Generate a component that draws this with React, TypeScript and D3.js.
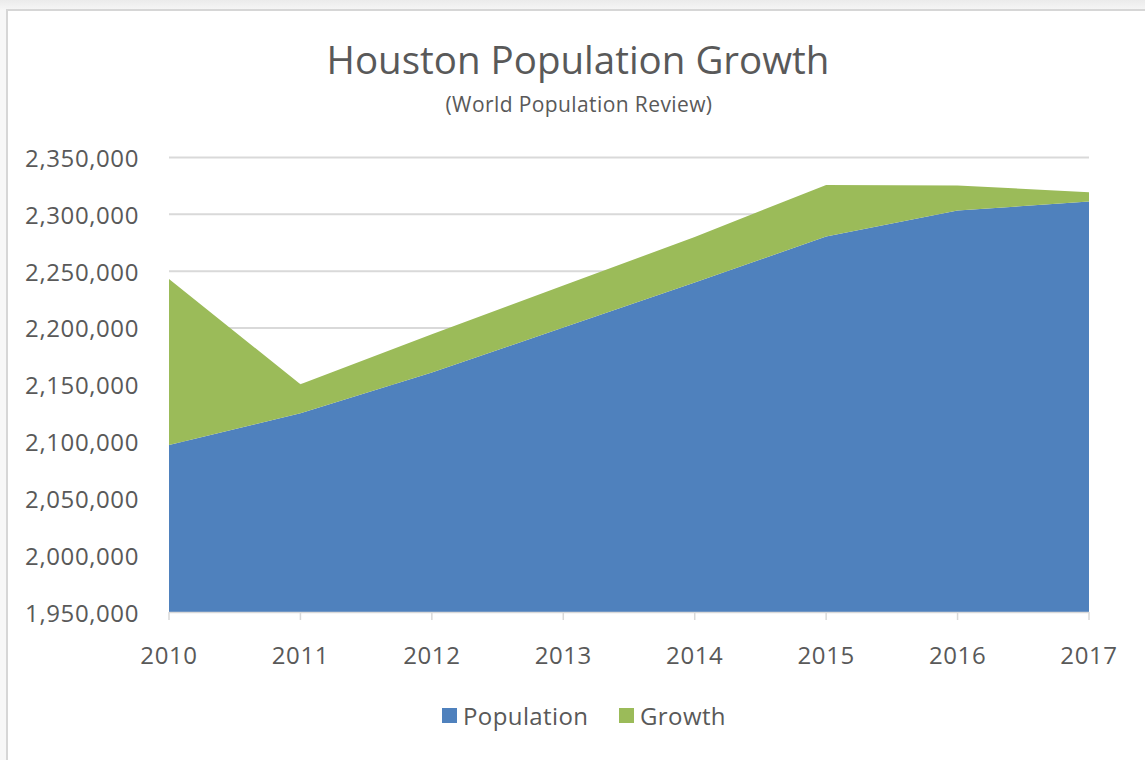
import React from "react";
import * as d3 from "d3";

const years = ["2010", "2011", "2012", "2013", "2014", "2015", "2016", "2017"];
const population = [2097000, 2125000, 2160700, 2200400, 2240000, 2280400, 2303300, 2311200];
const growth = [146000, 25500, 33700, 37000, 40000, 45500, 22000, 8300];
const seriesKeys = ["Population", "Growth"];
const seriesColors = ["#4F81BD", "#9BBB59"];
const yTicks = [1950000, 2000000, 2050000, 2100000, 2150000, 2200000, 2250000, 2300000, 2350000];

const W = 1145;
const H = 760;
const FONT = "'Open Sans', 'DejaVu Sans', sans-serif";
const TEXT = "#595959";

export default function App() {
  const rows = years.map((y, i) => ({ year: y, Population: population[i], Growth: growth[i] }));
  const stacked = d3.stack<any>().keys(seriesKeys)(rows);

  const x = d3.scalePoint<string>().domain(years).range([169, 1089]);
  const y = d3.scaleLinear().domain([1950000, 2350000]).range([612, 157.5]).clamp(true);

  const area = d3
    .area<any>()
    .x((d) => x(d.data.year) as number)
    .y0((d) => y(d[0]))
    .y1((d) => y(d[1]));

  const fmt = d3.format(",");

  return (
    <div style={{ position: "absolute", left: 0, top: 0 }}>
      <svg width={W} height={H} style={{ display: "block" }}>
        <defs>
          <linearGradient id="bgTop" x1="0" y1="0" x2="0" y2="1">
            <stop offset="0" stopColor="#ebebeb" />
            <stop offset="1" stopColor="#f6f6f6" />
          </linearGradient>
        </defs>
        <rect x={0} y={0} width={W} height={H} fill="#f7f7f7" />
        <rect x={0} y={0} width={W} height={10} fill="url(#bgTop)" />
        <rect x={7} y={10} width={W} height={H} fill="#ffffff" stroke="#d6d6d6" strokeWidth={2} />

        <text x={578} y={74} textAnchor="middle" fontFamily={FONT} fontSize={38.5} fill={TEXT}>
          Houston Population Growth
        </text>
        <text x={579} y={112} textAnchor="middle" fontFamily={FONT} fontSize={21} letterSpacing={0.4} fill={TEXT}>
          (World Population Review)
        </text>

        {yTicks.map((t) => (
          <g key={t}>
            <line x1={169} x2={1089} y1={y(t)} y2={y(t)} stroke="#d9d9d9" strokeWidth={2} />
            <text
              x={139}
              y={y(t)}
              textAnchor="end"
              dominantBaseline="central"
              fontFamily={FONT}
              fontSize={24}
              letterSpacing={0.6}
              fill={TEXT}
            >
              {fmt(t)}
            </text>
          </g>
        ))}

        {stacked.map((s, i) => (
          <path key={s.key} d={area(s as any) || ""} fill={seriesColors[i]} />
        ))}

        <line x1={169} x2={1089} y1={612.5} y2={612.5} stroke="#d9d9d9" strokeWidth={1.5} />
        {years.map((yr) => (
          <g key={yr}>
            <line
              x1={x(yr) as number}
              x2={x(yr) as number}
              y1={612}
              y2={620}
              stroke="#d9d9d9"
              strokeWidth={1.5}
            />
            <text
              x={x(yr) as number}
              y={664}
              textAnchor="middle"
              fontFamily={FONT}
              fontSize={24}
              letterSpacing={0.6}
              fill={TEXT}
            >
              {yr}
            </text>
          </g>
        ))}

        {seriesKeys.map((k, i) => {
          const lx = i === 0 ? 442 : 619;
          return (
            <g key={k}>
              <rect x={lx} y={708} width={15} height={15} fill={seriesColors[i]} />
              <text x={lx + 21} y={725} fontFamily={FONT} fontSize={24} letterSpacing={0.4} fill={TEXT}>
                {k}
              </text>
            </g>
          );
        })}
      </svg>
    </div>
  );
}
